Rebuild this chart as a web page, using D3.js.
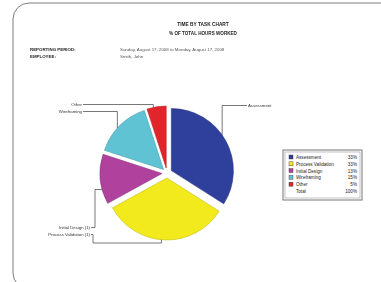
<!DOCTYPE html>
<html>
<head>
<meta charset="utf-8">
<script src="https://cdn.jsdelivr.net/npm/d3@7"></script>
<style>
body{margin:0;background:#fff;}
svg{display:block;font-family:"Liberation Sans",Arial,sans-serif;filter:blur(0.35px);}
</style>
</head>
<body>
<svg width="381" height="282"></svg>
<script>
var tasks = ['Assessment','Process Validation','Initial Design','Wireframing','Other'];
var shares = [34, 33, 13, 15, 5];
var colors = ['#2f3f9c','#f2ea1c','#b0429e','#5fc3d3','#e1252b'];
var shareLabels = ['33%','33%','13%','15%','5%'];
var totalLabel = '100%';

var svg = d3.select('svg');

// card frame
svg.append('rect').attr('x',13).attr('y',3).attr('width',420).attr('height',286)
	.attr('rx',16).style('fill','#fff').style('stroke','#7c7c7c').style('stroke-width',1);

// headers
svg.append('text').attr('x',203).attr('y',26).attr('text-anchor','middle')
	.style('font-size','4.8px').style('font-weight','bold').style('fill','#222').text('TIME BY TASK CHART');
svg.append('text').attr('x',203).attr('y',35).attr('text-anchor','middle')
	.style('font-size','4.6px').style('font-weight','bold').style('fill','#222').text('% OF TOTAL HOURS WORKED');

var info = [['REPORTING PERIOD:','Sunday, August 17, 2008 to Monday, August 17, 2008'],['EMPLOYEE:','Smith, John']];
info.forEach(function(row,i){
	svg.append('text').attr('x',30).attr('y',51+i*7).style('font-size','4.4px').style('font-weight','bold')
		.style('fill','#222').text(row[0]);
	svg.append('text').attr('x',120).attr('y',51+i*7).style('font-size','4.4px')
		.style('fill','#555').text(row[1]);
});

// pie
var cx = 167, cy = 173, r = 62, bump = 5;
var pie = d3.pie().sort(null).value(d => d.v);
var arcs = pie(tasks.map((t,i) => ({name:t, v:shares[i], c:colors[i]})));
var arc = d3.arc().innerRadius(0).outerRadius(r);

function explode(d){
	var a = (d.startAngle + d.endAngle)/2;
	return [Math.sin(a)*bump, -Math.cos(a)*bump];
}

var g = svg.append('g').attr('transform','translate('+cx+','+cy+')');
g.selectAll('path').data(arcs).enter().append('path')
	.attr('d',arc)
	.attr('transform',d => 'translate('+explode(d)+')')
	.style('fill',d => d.data.c)
	.style('stroke',d => d3.color(d.data.c).darker(0.6))
	.style('stroke-width',0.6);

// leader lines: anchor angle (deg) on the slice rim, label position, routing
var leaders = [
	{i:0, ang:55, lx:248, ly:107, side:'right'},
	{i:1, ang:185, lx:90, ly:236, side:'left', elbow:93, via:243},
	{i:2, ang:255, lx:90, ly:229, side:'left', elbow:95},
	{i:3, ang:312, lx:82, ly:113, side:'left'},
	{i:4, ang:348, lx:82, ly:106, side:'left'}
];
var labelText = ['Assessment','Process Validation (1)','Initial Design (1)','Wireframing','Other'];

leaders.forEach(function(l){
	var d = arcs[l.i], off = explode(d), a = l.ang*Math.PI/180;
	var ax = cx + off[0] + Math.sin(a)*r, ay = cy + off[1] - Math.cos(a)*r;
	var ex = l.elbow !== undefined ? l.elbow : ax;
	var vy = l.via !== undefined ? l.via : ay;
	var pts = [[l.lx + (l.side==='right' ? -1 : 1), l.ly-1.5],[ex, l.ly-1.5],[ex, vy],[ax, vy],[ax, ay]];
	svg.append('path').attr('d',d3.line()(pts))
		.style('fill','none').style('stroke','#555').style('stroke-width',0.8);
	svg.append('text').attr('x',l.lx).attr('y',l.ly)
		.attr('text-anchor',l.side==='right' ? 'start' : 'end')
		.style('font-size','4.3px').style('fill','#333').text(labelText[l.i]);
});

// legend
var lg = svg.append('g').attr('transform','translate(283,150)');
lg.append('rect').attr('width',79).attr('height',50).style('fill','#fff').style('stroke','#777').style('stroke-width',1);
lg.append('rect').attr('x',2).attr('y',2).attr('width',75).attr('height',46).style('fill','none').style('stroke','#999').style('stroke-width',0.6);
var y = d3.scaleLinear().domain([0,5]).range([8,42]);
tasks.forEach(function(t,i){
	lg.append('rect').attr('x',6).attr('y',y(i)-3).attr('width',4).attr('height',4)
		.style('fill',colors[i]).style('stroke','#333').style('stroke-width',0.4);
	lg.append('text').attr('x',13).attr('y',y(i)+1).style('font-size','4.6px').style('fill','#222').text(t);
	lg.append('text').attr('x',74).attr('y',y(i)+1).attr('text-anchor','end').style('font-size','4.6px').style('fill','#222').text(shareLabels[i]);
});
lg.append('text').attr('x',13).attr('y',y(5)+1).style('font-size','4.6px').style('fill','#222').text('Total');
lg.append('text').attr('x',74).attr('y',y(5)+1).attr('text-anchor','end').style('font-size','4.6px').style('fill','#222').text(totalLabel);
</script>
</body>
</html>
